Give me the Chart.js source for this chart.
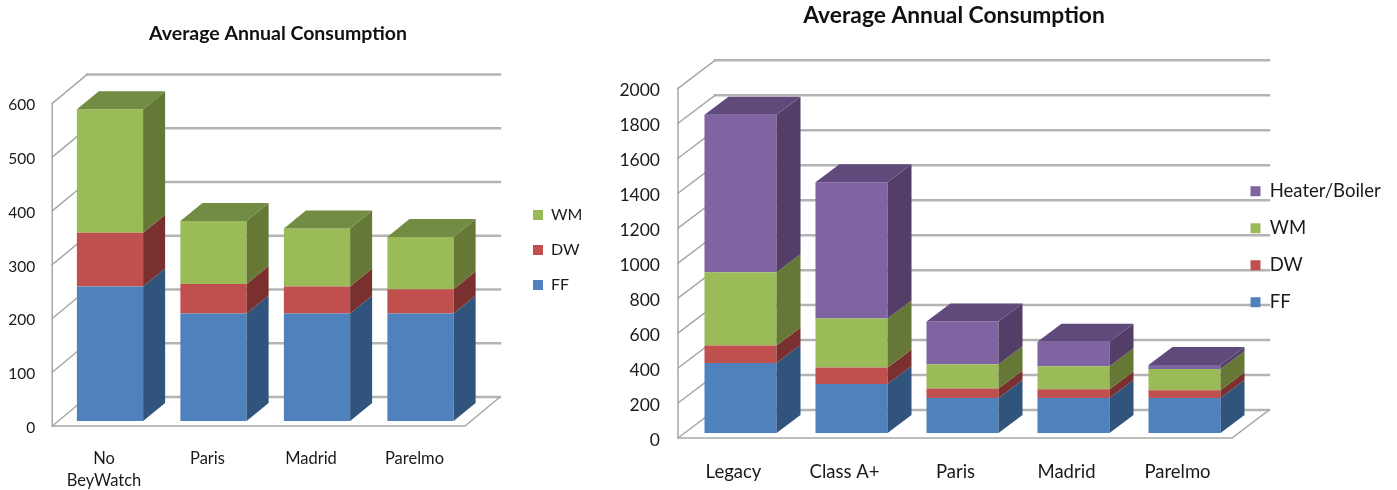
<!DOCTYPE html>
<html>
<head>
    <meta charset="utf-8" />
    <title>Average Annual Consumption</title>
    <script src="https://cdn.jsdelivr.net/npm/chart.js"></script>
    <style>
        html, body { margin: 0; padding: 0; background: #ffffff; }
        body { width: 1397px; height: 490px; position: relative; overflow: hidden; }
        canvas { position: absolute; top: 0; }
        #leftChart { left: 0; }
        #rightChart { left: 600px; }
    </style>
</head>
<body>
    <canvas id="leftChart" width="600" height="490"></canvas>
    <canvas id="rightChart" width="797" height="490"></canvas>
    <script>
        const leftCategories = [['No', 'BeyWatch'], 'Paris', 'Madrid', 'Parelmo'];
        const leftFF = [250, 200, 200, 200];
        const leftDW = [100, 55, 50, 45];
        const leftWM = [230, 117, 108, 97];
        const leftTicks = [0, 100, 200, 300, 400, 500, 600];

        const rightCategories = ['Legacy', 'Class A+', 'Paris', 'Madrid', 'Parelmo'];
        const rightFF = [400, 280, 200, 200, 200];
        const rightDW = [100, 95, 55, 50, 45];
        const rightWM = [420, 280, 138, 132, 121];
        const rightHeater = [900, 780, 245, 140, 23];
        const rightTicks = [0, 200, 400, 600, 800, 1000, 1200, 1400, 1600, 1800, 2000];

        const FONT = 'Lato, "Open Sans", sans-serif';

        // Series colours: front face, side face, top face
        const blue = { backgroundColor: '#4f81bd', side: '#31547c', top: '#3d6494' };
        const red = { backgroundColor: '#c0504d', side: '#7a302e', top: '#963e3b' };
        const green = { backgroundColor: '#9bbb59', side: '#657836', top: '#728c43' };
        const purple = { backgroundColor: '#8064a2', side: '#523e66', top: '#604a7b' };

        // Fake 3D: back wall, floor and the side/top faces of each bar
        const box3d = {
            id: 'box3d',
            afterLayout(chart, args, o) {
                const title = chart.titleBlock;
                title.left = o.titleX - 200;
                title.right = o.titleX + 200;
                const legend = chart.legend;
                const pad = legend.options.labels.padding;
                const w = legend.width;
                const h = legend.height;
                legend.left = o.legendX - pad;
                legend.right = legend.left + w;
                legend.top = o.legendY - pad;
                legend.bottom = legend.top + h;
            },
            beforeDraw(chart, args, o) {
                const ctx = chart.ctx;
                const y = chart.scales.y;
                const x0 = chart.chartArea.left + o.wallLeft;
                const xBack = x0 + o.wallDx;
                const front = (v) => y.getPixelForValue(v) + o.wallFront;
                const back = (v) => y.getPixelForValue(v) + o.wallBack;
                const max = y.max;
                ctx.save();
                ctx.lineCap = 'square';
                ctx.strokeStyle = '#b4b4b4';
                ctx.lineWidth = 2.5;
                y.ticks.forEach((t) => {
                    ctx.beginPath();
                    ctx.moveTo(xBack, back(t.value));
                    ctx.lineTo(o.wallRight, back(t.value));
                    ctx.stroke();
                });
                ctx.strokeStyle = '#a8a8a8';
                ctx.lineWidth = 1.5;
                y.ticks.forEach((t) => {
                    ctx.beginPath();
                    ctx.moveTo(x0, front(t.value));
                    ctx.lineTo(xBack, back(t.value));
                    ctx.stroke();
                });
                ctx.beginPath();
                ctx.moveTo(x0, front(max));
                ctx.lineTo(x0, front(0));
                ctx.lineTo(o.wallRight - o.wallDx, front(0));
                ctx.lineTo(o.wallRight, back(0));
                ctx.stroke();
                ctx.restore();
            },
            afterDatasetsDraw(chart, args, o) {
                const ctx = chart.ctx;
                const last = chart.data.datasets.length - 1;
                const face = (color, pts) => {
                    ctx.fillStyle = color;
                    ctx.beginPath();
                    pts.forEach((p, i) => (i ? ctx.lineTo(p[0], p[1]) : ctx.moveTo(p[0], p[1])));
                    ctx.closePath();
                    ctx.fill();
                };
                chart.data.datasets.forEach((ds, i) => {
                    chart.getDatasetMeta(i).data.forEach((bar) => {
                        const l = bar.x - bar.width / 2;
                        const r = bar.x + bar.width / 2;
                        face(ds.side, [[r, bar.y], [r + o.barDx, bar.y - o.barDy], [r + o.barDx, bar.base - o.barDy], [r, bar.base]]);
                        if (i === last) {
                            face(ds.top, [[l, bar.y], [l + o.barDx, bar.y - o.barDy], [r + o.barDx, bar.y - o.barDy], [r, bar.y]]);
                        }
                    });
                });
            }
        };

        function stackedChart(id, cfg) {
            return new Chart(document.getElementById(id), {
                type: 'bar',
                data: { labels: cfg.categories, datasets: cfg.datasets },
                plugins: [box3d],
                options: {
                    responsive: false,
                    animation: false,
                    layout: { padding: { top: 0, left: 0, bottom: 0, right: cfg.rightPad } },
                    datasets: { bar: { categoryPercentage: 1, barPercentage: cfg.barPercent, borderWidth: 0 } },
                    scales: {
                        x: {
                            stacked: true,
                            grid: { display: false },
                            border: { display: false },
                            ticks: {
                                color: '#1a1a1a',
                                autoSkip: false,
                                maxRotation: 0,
                                padding: cfg.xPad,
                                labelOffset: cfg.xLabelOffset,
                                font: { family: FONT, size: cfg.tickSize, lineHeight: cfg.tickLine }
                            },
                            afterFit(scale) { scale.height = cfg.xHeight; }
                        },
                        y: {
                            stacked: true,
                            min: 0,
                            max: cfg.ticks[cfg.ticks.length - 1],
                            afterBuildTicks(scale) { scale.ticks = cfg.ticks.map((v) => ({ value: v })); },
                            grid: { display: false },
                            border: { display: false },
                            ticks: {
                                color: '#1a1a1a',
                                padding: cfg.yPad,
                                labelOffset: cfg.yLabelOffset,
                                font: { family: FONT, size: cfg.yTickSize },
                                callback: (v) => String(v)
                            },
                            afterFit(scale) { scale.width = cfg.yWidth; }
                        }
                    },
                    plugins: {
                        tooltip: { enabled: false },
                        title: {
                            display: true,
                            text: 'Average Annual Consumption',
                            color: '#111111',
                            font: { family: FONT, size: cfg.titleSize, weight: 'bold' },
                            padding: cfg.titlePad
                        },
                        legend: {
                            position: 'chartArea',
                            align: 'start',
                            reverse: true,
                            labels: {
                                boxWidth: 10,
                                boxHeight: 10,
                                padding: cfg.legendGap,
                                color: '#1a1a1a',
                                font: { family: FONT, size: cfg.legendSize }
                            }
                        },
                        box3d: cfg.box3d
                    }
                }
            });
        }

        stackedChart('leftChart', {
            categories: leftCategories,
            ticks: leftTicks,
            datasets: [
                { label: 'FF', data: leftFF, ...blue },
                { label: 'DW', data: leftDW, ...red },
                { label: 'WM', data: leftWM, ...green }
            ],
            rightPad: 127.75, barPercent: 0.64,
            xHeight: 69, xPad: 19, xLabelOffset: -6, tickLine: 1.3,
            yWidth: 58.25, yPad: 15, yLabelOffset: 7,
            tickSize: 16.5, yTickSize: 15.5, titleSize: 19.5, legendSize: 16, legendGap: 19,
            titlePad: { top: 22, bottom: 53 },
            box3d: {
                titleX: 278, legendX: 533, legendY: 207,
                wallLeft: -6, wallDx: 35, wallFront: 5, wallBack: -24, wallRight: 500,
                barDx: 22, barDy: 18
            }
        });

        stackedChart('rightChart', {
            categories: rightCategories,
            ticks: rightTicks,
            datasets: [
                { label: 'FF', data: rightFF, ...blue },
                { label: 'DW', data: rightDW, ...red },
                { label: 'WM', data: rightWM, ...green },
                { label: 'Heater/Boiler', data: rightHeater, ...purple }
            ],
            rightPad: 157, barPercent: 0.649,
            xHeight: 57, xPad: 20, xLabelOffset: -7, tickLine: 1.2,
            yWidth: 85, yPad: 17, yLabelOffset: 7,
            tickSize: 18.5, yTickSize: 17.5, titleSize: 22.8, legendSize: 18.5, legendGap: 18.5,
            titlePad: { top: 2, bottom: 54 },
            box3d: {
                titleX: 354, legendX: 650.5, legendY: 182,
                wallLeft: -7, wallDx: 37, wallFront: 5, wallBack: -23, wallRight: 669,
                barDx: 24, barDy: 18
            }
        });
    </script>
</body>
</html>
